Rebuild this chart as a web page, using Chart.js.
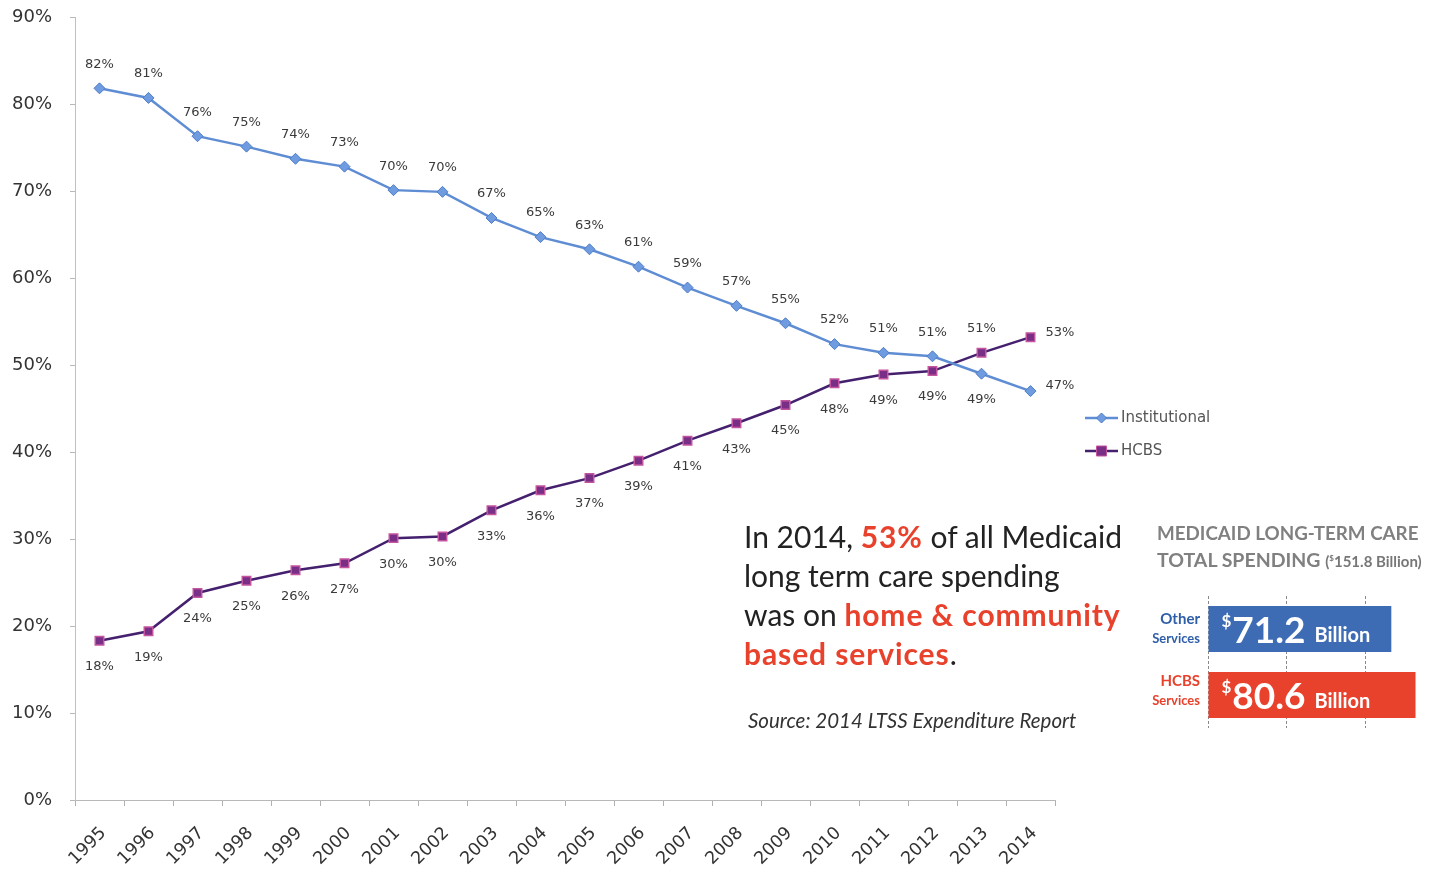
<!DOCTYPE html>
<html>
<head>
<meta charset="utf-8">
<script src="https://cdn.jsdelivr.net/npm/chart.js@4.4.1/dist/chart.umd.min.js"></script>
<style>
  html, body { margin:0; padding:0; background:#fff; }
  #wrap { position:relative; width:1432px; height:875px; overflow:hidden; background:#fff; }
  #main { position:absolute; left:0; top:0; }
  #bars { position:absolute; left:1208px; top:596px; }
  .t { position:absolute; white-space:nowrap; font-family:Lato, 'Open Sans', sans-serif; }
  .big { font-size:30px; color:#222; line-height:39px; }
  .red { color:#e8412c; font-weight:700; letter-spacing:0.9px; }
  .src { font-size:20.5px; font-style:italic; color:#333; }
  .ttl { font-weight:700; color:#808080; }
  .lbl { font-size:15px; font-weight:700; text-align:right; line-height:19px; }
</style>
</head>
<body>
<div id="wrap">
  <canvas id="main" width="1432" height="875"></canvas>
  <canvas id="bars" width="224" height="132"></canvas>

  <div class="t big" style="left:744px; top:517px;">In 2014, <span class="red">53%</span> of all Medicaid<br>long term care spending<br>was on <span class="red">home &amp; community</span><br><span class="red">based services</span>.</div>
  <div class="t src" style="left:748px; top:708px;">Source: 2014 LTSS Expenditure Report</div>

  <div class="t ttl" style="left:1157px; top:521px; font-size:18.8px;">MEDICAID LONG-TERM CARE</div>
  <div class="t ttl" style="left:1157px; top:548px; font-size:19.5px;">TOTAL SPENDING <span style="font-size:15px; color:#777;">(<sup style="font-size:8px;">$</sup>151.8 Billion)</span></div>

  <div class="t lbl" style="right:232px; top:609px; color:#2f5ea8;">Other<br><span style="font-size:13px;">Services</span></div>
  <div class="t lbl" style="right:232px; top:671px; color:#e8412c;">HCBS<br><span style="font-size:13px;">Services</span></div>
</div>
<script>
// ---------- data ----------
const years = ['1995','1996','1997','1998','1999','2000','2001','2002','2003','2004',
               '2005','2006','2007','2008','2009','2010','2011','2012','2013','2014'];
const institutional = [81.8,80.7,76.3,75.1,73.7,72.8,70.1,69.9,66.9,64.7,
                       63.3,61.3,58.9,56.8,54.8,52.4,51.4,51.0,49.0,47.0];
const hcbs = [18.3,19.4,23.8,25.2,26.4,27.2,30.1,30.3,33.3,35.6,
              37.0,39.0,41.3,43.3,45.4,47.9,48.9,49.3,51.4,53.2];
const seriesNames = ['Institutional','HCBS'];
const yMin = 0, yMax = 90, yStep = 10;

const spendCategories = ['Other Services','HCBS Services'];
const spendValues = [71.2, 80.6];
const spendUnit = 'Billion';

// ---------- main chart plugins ----------
const pointLabels = {
  id:'pointLabels',
  afterDatasetsDraw(chart){
    const ctx = chart.ctx;
    const n = chart.data.labels.length;
    ctx.save();
    ctx.font = '13px "DejaVu Sans", sans-serif';
    ctx.fillStyle = '#3a3a3a';
    ctx.textBaseline = 'middle';
    chart.data.datasets.forEach((ds, di) => {
      const other = chart.data.datasets[1 - di].data;
      chart.getDatasetMeta(di).data.forEach((pt, i) => {
        const v = ds.data[i];
        const txt = Math.round(v) + '%';
        let x = pt.x, y = pt.y;
        if (i === n - 1) { ctx.textAlign = 'left'; x += 15; y -= 5; }
        else { ctx.textAlign = 'center'; y += (v > other[i]) ? -24 : 26; }
        ctx.fillText(txt, x, y);
      });
    });
    ctx.restore();
  }
};

const sideLegend = {
  id:'sideLegend',
  afterDraw(chart){
    const ctx = chart.ctx;
    ctx.save();
    chart.data.datasets.forEach((ds, i) => {
      const y = 418 + i * 33, x0 = 1085, x1 = 1118;
      ctx.strokeStyle = ds.borderColor; ctx.lineWidth = 2.5;
      ctx.beginPath(); ctx.moveTo(x0, y); ctx.lineTo(x1, y); ctx.stroke();
      const cx = (x0 + x1) / 2;
      ctx.fillStyle = ds.pointBackgroundColor;
      ctx.strokeStyle = ds.pointBorderColor; ctx.lineWidth = 1;
      ctx.beginPath();
      if (ds.pointStyle === 'rectRot') {
        ctx.moveTo(cx, y - 5); ctx.lineTo(cx + 5, y); ctx.lineTo(cx, y + 5); ctx.lineTo(cx - 5, y); ctx.closePath();
      } else {
        ctx.rect(cx - 5, y - 5, 10, 10);
      }
      ctx.fill(); ctx.stroke();
      ctx.fillStyle = '#555';
      ctx.font = '15px "DejaVu Sans", sans-serif';
      ctx.textAlign = 'left'; ctx.textBaseline = 'middle';
      ctx.fillText(ds.label, x1 + 3, y);
    });
    ctx.restore();
  }
};

new Chart(document.getElementById('main'), {
  type:'line',
  data:{
    labels: years,
    datasets:[
      { label: seriesNames[0], data: institutional,
        borderColor:'#5f8dd3', borderWidth:2.5,
        pointStyle:'rectRot', pointRadius:5.5,
        pointBackgroundColor:'#6f9be0', pointBorderColor:'#4d7cc6', pointBorderWidth:1,
        tension:0 },
      { label: seriesNames[1], data: hcbs,
        borderColor:'#45206e', borderWidth:2.5,
        pointStyle:'rect', pointRadius:6,
        pointBackgroundColor:'#7a2f86', pointBorderColor:'#c4549e', pointBorderWidth:1.5,
        tension:0 }
    ]
  },
  options:{
    responsive:false, animation:false,
    layout:{ padding:{ top:17, right:377, left:0, bottom:0 } },
    plugins:{ legend:{ display:false }, tooltip:{ enabled:false } },
    scales:{
      x:{
        offset:true,
        grid:{ offset:true, drawOnChartArea:false, tickLength:6, color:'#b0b0b0' },
        border:{ color:'#b8b8b8', dash:[3,2] },
        ticks:{ minRotation:45, maxRotation:45, color:'#333', labelOffset:4,
                font:{ family:'"DejaVu Sans", sans-serif', size:17.5 }, padding:17 },
        afterFit(s){ s.height = 75; }
      },
      y:{
        min:yMin, max:yMax,
        grid:{ drawOnChartArea:false, tickLength:5, color:'#b8b8b8' },
        border:{ color:'#c0c0c0', dash:[3,2] },
        ticks:{ stepSize:yStep, color:'#333', padding:18,
                font:{ family:'"DejaVu Sans", sans-serif', size:18 },
                callback:v => v + '%' },
        afterFit(s){ s.width = 75; s.paddingTop = 0; s.paddingBottom = 0; }
      }
    }
  },
  plugins:[pointLabels, sideLegend]
});

// ---------- spending bar chart ----------
const barText = {
  id:'barText',
  afterDatasetsDraw(chart){
    const ctx = chart.ctx;
    ctx.save();
    ctx.fillStyle = '#fff';
    ctx.textBaseline = 'alphabetic';
    chart.getDatasetMeta(0).data.forEach((bar, i) => {
      const v = chart.data.datasets[0].data[i];
      let x = bar.base + 13;
      const yb = bar.y + 14;
      ctx.font = '700 17px Lato, sans-serif';
      ctx.fillText('$', x, yb - 16);
      x += ctx.measureText('$').width + 1;
      ctx.font = '700 37px Lato, sans-serif';
      const num = v.toFixed(1);
      ctx.fillText(num, x, yb);
      x += ctx.measureText(num).width + 9;
      ctx.font = '700 20px Lato, sans-serif';
      ctx.fillText(spendUnit, x, yb - 1);
    });
    ctx.restore();
  }
};

new Chart(document.getElementById('bars'), {
  type:'bar',
  data:{
    labels: spendCategories,
    datasets:[{ data: spendValues, backgroundColor:['#3d6cb5','#e8412c'],
                barPercentage:0.7, categoryPercentage:1 }]
  },
  options:{
    indexAxis:'y', responsive:false, animation:false,
    layout:{ padding:0 },
    plugins:{ legend:{ display:false }, tooltip:{ enabled:false } },
    scales:{
      x:{ min:0, max:87, position:'bottom',
          ticks:{ display:false, stepSize:30.5 },
          grid:{ drawTicks:false, color:'#8a8a8a' },
          border:{ color:'#999', dash:[3,2] } },
      y:{ display:false }
    }
  },
  plugins:[barText]
});
</script>
</body>
</html>
